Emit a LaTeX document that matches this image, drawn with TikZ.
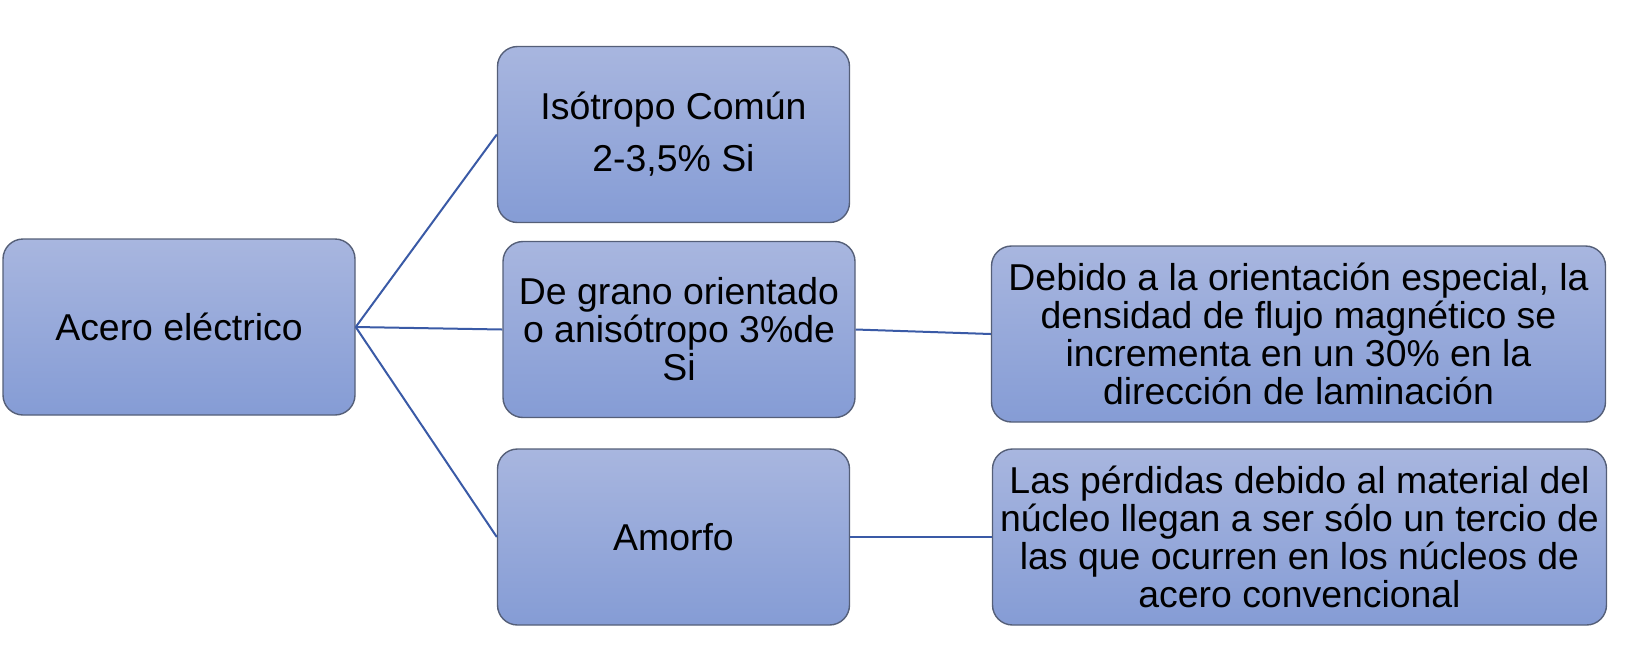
\documentclass[tikz,border=0pt]{standalone}
\usepackage{fontspec}
\setmainfont{Liberation Sans}
\usepackage{tikz}
\usetikzlibrary{positioning}
\definecolor{boxtop}{HTML}{A8B6DF}
\definecolor{boxbot}{HTML}{859CD5}
\definecolor{boxline}{HTML}{555F78}
\definecolor{linkblue}{HTML}{3A5AA6}

\begin{document}
\begin{tikzpicture}[x=0.5pt,y=-0.5pt,
  box/.style={draw=boxline,line width=0.7pt,rounded corners=10pt,top color=boxtop,bottom color=boxbot,
    minimum width=176pt,minimum height=88pt,inner sep=2pt,align=center,
    font=\fontsize{18.7}{19}\selectfont},
  widebox/.style={box,minimum width=307pt},
  link/.style={draw=linkblue,line width=1pt}]
  \useasboundingbox (0,0) rectangle (1633,671);

  \node[box] (acero) at (179,327) {Acero eléctrico};
  \node[box] (isotropo) at (673.5,134.5) {Isótropo Común\\[7pt]2-3,5\% Si};
  \node[box] (grano) at (679,329.5) {De grano orientado\\o anisótropo 3\%de\\Si};
  \node[box] (amorfo) at (673.5,537) {Amorfo};
  \node[widebox] (debido) at (1298.5,334) {Debido a la orientación especial, la\\densidad de flujo magnético se\\incrementa en un 30\% en la\\dirección de laminación};
  \node[widebox] (perdidas) at (1299.5,537) {Las pérdidas debido al material del\\núcleo llegan a ser sólo un tercio de\\las que ocurren en los núcleos de\\acero convencional};

  \foreach \dst in {isotropo,grano,amorfo} {
    \draw[link] (acero.east) -- (\dst.west);
  }
  \draw[link] (grano.east) -- (debido.west);
  \draw[link] (amorfo.east) -- (perdidas.west);
\end{tikzpicture}
\end{document}
